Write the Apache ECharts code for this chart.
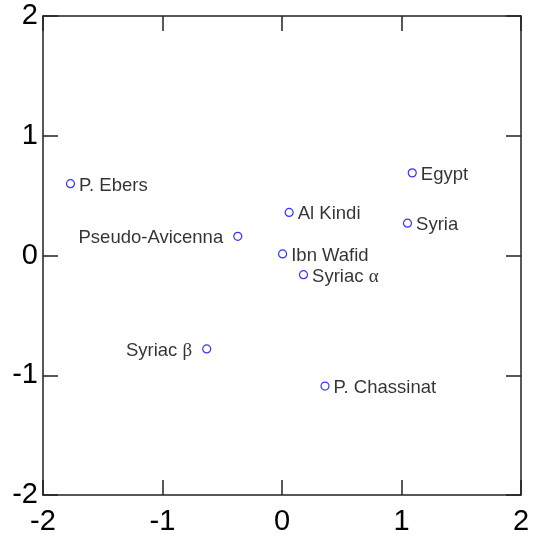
<!DOCTYPE html>
<html><head><meta charset="utf-8">
<script src="https://cdn.jsdelivr.net/npm/echarts@6/dist/echarts.min.js"></script>
<style>html,body{margin:0;padding:0;background:#fff}#c{width:533px;height:540px}</style>
</head><body><div id="c"></div>
<script>
const names = ['P. Ebers','Pseudo-Avicenna','Al Kindi','Ibn Wafid','Syriac α','Egypt','Syria','Syriac β','P. Chassinat'];
const xVals = [-1.77,-0.37,0.06,0.005,0.18,1.09,1.05,-0.63,0.36];
const yVals = [0.60,0.16,0.36,0.013,-0.16,0.69,0.27,-0.78,-1.09];
const labelLeft = [false,true,false,false,false,false,false,true,false];
const tickVals = [-2,-1,0,1,2];

const data = names.map((n,i)=>({
  value:[xVals[i],yVals[i]],
  name:n,
  label:{position: labelLeft[i]?'left':'right', distance: labelLeft[i]?10:4, offset:[0,2]}
}));

function fmt(p){
  const n = p.name;
  const m = n.match(/^(.*?)([αβ])$/);
  if(m) return m[1] + '{g|' + m[2] + '}';
  return n;
}

const axisCommon = {
  type:'value', min:-2, max:2, interval:1,
  axisLine:{show:true, onZero:false, lineStyle:{color:'#222', width:1.5}},
  axisTick:{show:true, inside:true, length:15, lineStyle:{color:'#222', width:1.5}},
  splitLine:{show:false}
};

const chart = echarts.init(document.getElementById('c'));
chart.setOption({
  animation:false,
  backgroundColor:'#fff',
  grid:{left:43, top:16, right:12, bottom:45},
  xAxis:[
    Object.assign({}, axisCommon, {position:'bottom',
      axisLabel:{show:true, fontSize:29, color:'#000', fontFamily:'Liberation Sans, Arial', margin:12}}),
    Object.assign({}, axisCommon, {position:'top', axisLabel:{show:false}})
  ],
  yAxis:[
    Object.assign({}, axisCommon, {position:'left',
      axisLabel:{show:true, fontSize:29, color:'#000', fontFamily:'Liberation Sans, Arial', margin:5, padding:[7,0,0,0]}}),
    Object.assign({}, axisCommon, {position:'right', axisLabel:{show:false}})
  ],
  series:[{
    type:'scatter',
    xAxisIndex:0, yAxisIndex:0,
    symbol:'circle', symbolSize:8,
    itemStyle:{color:'#fff', borderColor:'#0000ff', borderWidth:1.2},
    label:{show:true, formatter:fmt, fontSize:18.5, color:'#000', fontFamily:'Liberation Sans, Arial',
      rich:{g:{fontFamily:'Liberation Serif, Times New Roman', fontSize:19, color:'#000'}}},
    data:data
  }]
});
</script></body></html>
